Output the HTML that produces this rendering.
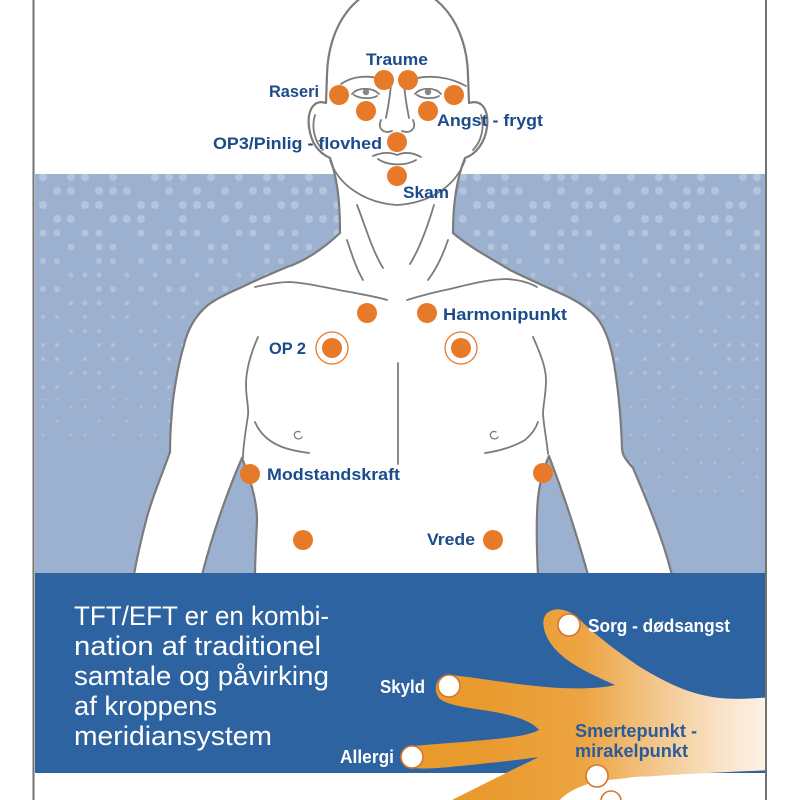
<!DOCTYPE html>
<html><head><meta charset="utf-8"><style>
html,body{margin:0;padding:0;background:#fff;width:800px;height:800px;overflow:hidden}
svg{display:block}
text{font-family:"Liberation Sans",Arial,sans-serif}
</style></head><body>
<svg width="800" height="800" viewBox="0 0 800 800" xmlns="http://www.w3.org/2000/svg">
<defs>
<pattern id="pA" x="36" y="170" width="196" height="84" patternUnits="userSpaceOnUse">
<g fill="#b5c4dd">
<circle cx="7" cy="7" r="4"/><circle cx="35" cy="7" r="4"/><circle cx="49" cy="7" r="4"/><circle cx="77" cy="7" r="4"/><circle cx="119" cy="7" r="4"/><circle cx="133" cy="7" r="4"/><circle cx="147" cy="7" r="4"/><circle cx="175" cy="7" r="4"/>
<circle cx="21" cy="21" r="4"/><circle cx="35" cy="21" r="4"/><circle cx="63" cy="21" r="4"/><circle cx="77" cy="21" r="4"/><circle cx="91" cy="21" r="4"/><circle cx="133" cy="21" r="4"/><circle cx="161" cy="21" r="4"/><circle cx="189" cy="21" r="4"/>
<circle cx="7" cy="35" r="4"/><circle cx="49" cy="35" r="4"/><circle cx="63" cy="35" r="4"/><circle cx="105" cy="35" r="4"/><circle cx="119" cy="35" r="4"/><circle cx="147" cy="35" r="4"/><circle cx="161" cy="35" r="4"/><circle cx="175" cy="35" r="4"/>
<circle cx="21" cy="49" r="4"/><circle cx="35" cy="49" r="4"/><circle cx="77" cy="49" r="4"/><circle cx="91" cy="49" r="4"/><circle cx="105" cy="49" r="4"/><circle cx="147" cy="49" r="4"/><circle cx="189" cy="49" r="4"/>
<circle cx="7" cy="63" r="3.5"/><circle cx="21" cy="63" r="3.5"/><circle cx="49" cy="63" r="3.5"/><circle cx="63" cy="63" r="3.5"/><circle cx="105" cy="63" r="3.5"/><circle cx="133" cy="63" r="3.5"/><circle cx="147" cy="63" r="3.5"/><circle cx="161" cy="63" r="3.5"/>
<circle cx="35" cy="77" r="3.5"/><circle cx="63" cy="77" r="3.5"/><circle cx="77" cy="77" r="3.5"/><circle cx="119" cy="77" r="3.5"/><circle cx="133" cy="77" r="3.5"/><circle cx="175" cy="77" r="3.5"/><circle cx="189" cy="77" r="3.5"/>
</g></pattern>
<pattern id="pB" x="36" y="254" width="168" height="28" patternUnits="userSpaceOnUse">
<g fill="#b3c2db">
<circle cx="7" cy="7" r="3"/><circle cx="21" cy="7" r="3"/><circle cx="63" cy="7" r="3"/><circle cx="77" cy="7" r="3"/><circle cx="105" cy="7" r="3"/><circle cx="133" cy="7" r="3"/><circle cx="147" cy="7" r="3"/>
<circle cx="35" cy="21" r="2.5"/><circle cx="49" cy="21" r="2.5"/><circle cx="63" cy="21" r="2.5"/><circle cx="91" cy="21" r="2.5"/><circle cx="119" cy="21" r="2.5"/><circle cx="161" cy="21" r="2.5"/>
</g></pattern>
<pattern id="pC" x="36" y="310" width="140" height="42" patternUnits="userSpaceOnUse">
<g fill="#b2c1da">
<circle cx="7" cy="7" r="2"/><circle cx="21" cy="7" r="2"/><circle cx="49" cy="7" r="2"/><circle cx="77" cy="7" r="2"/><circle cx="91" cy="7" r="2"/><circle cx="133" cy="7" r="2"/>
<circle cx="35" cy="21" r="2"/><circle cx="49" cy="21" r="2"/><circle cx="63" cy="21" r="2"/><circle cx="105" cy="21" r="2"/><circle cx="119" cy="21" r="2"/>
<circle cx="7" cy="35" r="2"/><circle cx="21" cy="35" r="2"/><circle cx="63" cy="35" r="2"/><circle cx="77" cy="35" r="2"/><circle cx="119" cy="35" r="2"/><circle cx="133" cy="35" r="2"/>
</g></pattern>
<pattern id="pD" x="36" y="400" width="70" height="28" patternUnits="userSpaceOnUse">
<g fill="#b1c0da">
<circle cx="7" cy="7" r="1.5"/><circle cx="35" cy="7" r="1.5"/><circle cx="49" cy="7" r="1.5"/>
<circle cx="21" cy="21" r="1.5"/><circle cx="63" cy="21" r="1.5"/>
</g></pattern>
<linearGradient id="hg" gradientUnits="userSpaceOnUse" x1="480" y1="0" x2="775" y2="0">
<stop offset="0" stop-color="#e99a2d"/>
<stop offset="0.35" stop-color="#eca442"/>
<stop offset="0.6" stop-color="#f3c78c"/>
<stop offset="0.82" stop-color="#f9e3c8"/>
<stop offset="1" stop-color="#fdf5ec"/>
</linearGradient>
<clipPath id="bandClip"><rect x="35" y="174" width="730" height="399"/></clipPath>
<clipPath id="handClip"><rect x="35" y="560" width="730" height="240"/></clipPath>
</defs>

<rect x="0" y="0" width="800" height="800" fill="#ffffff"/>
<rect x="35" y="174" width="730" height="399" fill="#9cb0cf"/>
<g clip-path="url(#bandClip)">
<rect x="35" y="174" width="730" height="80" fill="url(#pA)"/>
<rect x="35" y="254" width="730" height="56" fill="url(#pB)"/>
<rect x="35" y="310" width="730" height="90" fill="url(#pC)"/>
<rect x="35" y="400" width="730" height="40" fill="url(#pD)"/>
<rect x="600" y="440" width="165" height="60" fill="url(#pD)"/>
</g>

<!-- body silhouette -->
<path d="M397,-14 C356,-14 328,25 327,75 L326,103 C314,99 307,110 309,127 C311,143 319,153 330,158 C336,175 340,195 340,233 C322,250 303,262 287,267 C268,275 252,282 240,288 C226,294 216,299 208,305 C196,315 188,328 184,345 C178,365 175,385 173,400 C171,420 170,440 170,452 C162,475 153,495 147,517 C141,540 137,557 134,575 L202,575 C212,535 228,490 242,458 C250,478 257,500 257,520 C256,545 255,562 255,575 L538,575 C537,555 536,520 538,498 C540,480 545,465 549,456 C562,490 577,535 588,575 L672,575 C665,548 659,532 653,517 C646,498 638,480 633,468 C626,460 622,455 622,448 C621,420 619,395 615,370 C611,343 604,322 590,311 C577,300 562,294 553,290 C535,282 522,276 510,270 C490,258 468,246 453,233 C453,205 456,180 465,158 C476,154 485,143 487,127 C489,110 482,99 469,103 L468,75 C467,25 438,-14 397,-14 Z" fill="#ffffff" stroke="#7b7b7b" stroke-width="2.2" stroke-linejoin="round"/>

<!-- inner lines -->
<g fill="none" stroke="#7b7b7b" stroke-width="1.8" stroke-linecap="round">
<path d="M330,160 C338,185 365,203 397,205 C430,203 456,186 465,160"/>
<path d="M315,115 C311,128 315,142 323,150"/>
<path d="M481,115 C485,128 481,142 473,150"/>
<path d="M341,84 C352,76 368,75 381,79"/>
<path d="M413,79 C428,75 448,76 466,86"/>
<path d="M352,94 C358,87 372,87 379,94"/>
<path d="M354,95 C360,99 372,99 377,96"/>
<path d="M415,94 C421,87 435,87 441,94"/>
<path d="M417,95 C423,99 434,99 439,96"/>
<path d="M391,84 C390,96 388,108 386,118"/>
<path d="M404,84 C405,96 407,108 409,118"/>
<path d="M381,120 C377,129 384,134 392,131"/>
<path d="M413,120 C417,129 410,134 402,131"/>
<path d="M373,156 C382,152 390,152 397,155 C404,152 412,152 421,157"/>
<path d="M378,159 C388,166 406,166 416,160"/>
<path d="M357,205 C365,225 372,250 383,268"/>
<path d="M347,240 C352,255 356,268 363,280"/>
<path d="M434,205 C428,225 420,248 410,264"/>
<path d="M448,240 C443,255 437,268 428,280"/>
<path d="M255,287 C268,284 280,282 290,282 C310,283 330,289 350,292 C365,295 378,297 387,300"/>
<path d="M407,300 C420,296 435,292 450,289 C470,284 490,279 507,279 C520,280 530,283 537,287"/>
<path d="M258,337 C250,355 246,372 246,385 C246,398 249,408 248,415 C246,430 243,445 243,458"/>
<path d="M533,337 C541,355 546,368 546,380 C546,395 543,405 543,414 C544,428 547,442 548,454"/>
<path d="M255,422 C260,434 270,443 285,448 C294,451 302,452 309,453"/>
<path d="M485,453 C500,451 515,446 525,440 C532,434 536,428 538,422"/>
<path d="M398,363 L398,464"/>
<path d="M300,432 C296,430 293,434 295,437 C297,440 301,439 302,437" stroke-width="1.3"/>
<path d="M496,432 C492,430 489,434 491,437 C493,440 497,439 498,437" stroke-width="1.3"/>
</g>
<g fill="#888"><circle cx="366" cy="92" r="3.2"/><circle cx="428" cy="92" r="3.2"/></g>

<!-- orange dots -->
<g fill="#e77a28">
<circle cx="384" cy="80" r="10"/><circle cx="408" cy="80" r="10"/>
<circle cx="339" cy="95" r="10"/><circle cx="454" cy="95" r="10"/>
<circle cx="366" cy="111" r="10"/><circle cx="428" cy="111" r="10"/>
<circle cx="397" cy="142" r="10"/><circle cx="397" cy="176" r="10"/>
<circle cx="367" cy="313" r="10"/><circle cx="427" cy="313" r="10"/>
<circle cx="332" cy="348" r="10"/><circle cx="461" cy="348" r="10"/>
<circle cx="250" cy="474" r="10"/><circle cx="543" cy="473" r="10"/>
<circle cx="303" cy="540" r="10"/><circle cx="493" cy="540" r="10"/>
</g>
<g fill="none" stroke="#e77a28" stroke-width="1.3">
<circle cx="332" cy="348" r="16"/><circle cx="461" cy="348" r="16"/>
</g>

<!-- body labels -->
<g fill="#1c4b8b" font-weight="bold" font-size="17">
<text x="366" y="65" textLength="62" lengthAdjust="spacingAndGlyphs">Traume</text>
<text x="269" y="97" textLength="50" lengthAdjust="spacingAndGlyphs">Raseri</text>
<text x="437" y="126" textLength="106" lengthAdjust="spacingAndGlyphs">Angst - frygt</text>
<text x="213" y="149" textLength="169" lengthAdjust="spacingAndGlyphs">OP3/Pinlig - flovhed</text>
<text x="403" y="198" textLength="46" lengthAdjust="spacingAndGlyphs">Skam</text>
<text x="443" y="320" textLength="124" lengthAdjust="spacingAndGlyphs">Harmonipunkt</text>
<text x="269" y="354" textLength="37" lengthAdjust="spacingAndGlyphs">OP 2</text>
<text x="267" y="480" textLength="133" lengthAdjust="spacingAndGlyphs">Modstandskraft</text>
<text x="427" y="545" textLength="48" lengthAdjust="spacingAndGlyphs">Vrede</text>
</g>

<!-- dark band -->
<rect x="35" y="573" width="730" height="200" fill="#2e63a1"/>
<g fill="#ffffff" font-size="27">
<text x="74" y="625" textLength="255" lengthAdjust="spacingAndGlyphs">TFT/EFT er en kombi-</text>
<text x="74" y="655" textLength="247" lengthAdjust="spacingAndGlyphs">nation af traditionel</text>
<text x="74" y="685" textLength="255" lengthAdjust="spacingAndGlyphs">samtale og påvirking</text>
<text x="74" y="715" textLength="143" lengthAdjust="spacingAndGlyphs">af kroppens</text>
<text x="74" y="745" textLength="198" lengthAdjust="spacingAndGlyphs">meridiansystem</text>
</g>

<!-- hand -->
<g clip-path="url(#handClip)">
<path d="M405,747 C430,744 470,742 505,738 C520,736 532,734 539,730 C532,721 512,714 482,710 C462,707 446,704 440,699 C432,691 436,675 448,675 C470,676 520,686 560,688 C585,689 603,688 615,685 C593,675 570,665 556,650 C545,638 539,622 547,613 C556,606 569,610 577,617 C592,632 612,648 640,667 C665,682 690,695 720,698 C740,700 755,698 775,697 L775,770 C700,773 640,776 600,781 C580,785 566,793 560,800 L452,800 C472,790 494,779 510,771 C524,764 534,760 538,757 C520,760 480,764 450,767 C430,769 415,769 405,767 Z" fill="url(#hg)"/>
<ellipse cx="633" cy="792" rx="35" ry="14" transform="rotate(-8 633 792)" fill="none" stroke="#ffffff" stroke-width="1.6"/>
</g>
<g fill="#ffffff" stroke="#d9752a" stroke-width="1.6">
<circle cx="569" cy="625" r="11"/>
<circle cx="449" cy="686" r="11"/>
<circle cx="412" cy="757" r="11"/>
<circle cx="597" cy="776" r="11"/>
<circle cx="611" cy="801" r="10"/>
</g>
<g fill="#ffffff" font-weight="bold" font-size="18">
<text x="588" y="632" textLength="142" lengthAdjust="spacingAndGlyphs">Sorg - dødsangst</text>
<text x="380" y="693" textLength="45" lengthAdjust="spacingAndGlyphs">Skyld</text>
<text x="340" y="763" textLength="54" lengthAdjust="spacingAndGlyphs">Allergi</text>
</g>
<g fill="#2a5b9b" font-weight="bold" font-size="18">
<text x="575" y="737" textLength="122" lengthAdjust="spacingAndGlyphs">Smertepunkt -</text>
<text x="575" y="757" textLength="113" lengthAdjust="spacingAndGlyphs">mirakelpunkt</text>
</g>

<!-- frame lines -->
<rect x="32.5" y="0" width="2" height="800" fill="#727272"/>
<rect x="765" y="0" width="2" height="800" fill="#727272"/>
</svg>
</body></html>
